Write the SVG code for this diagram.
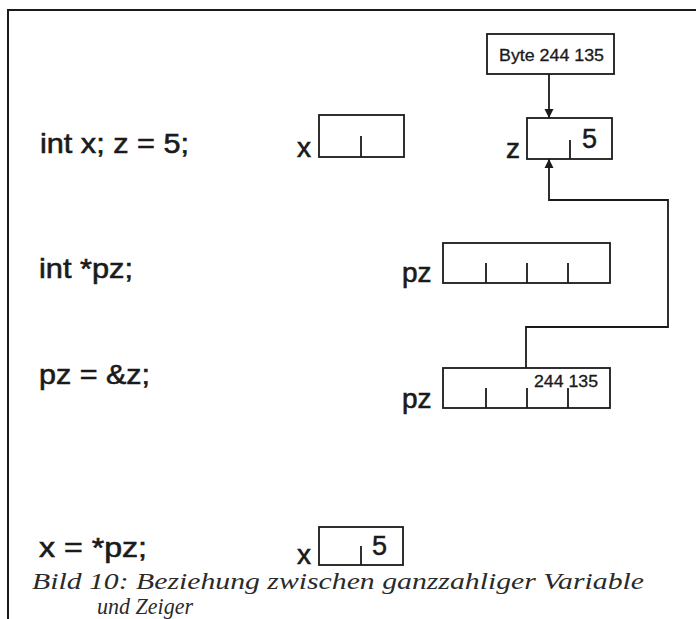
<svg xmlns="http://www.w3.org/2000/svg" width="696" height="619" viewBox="0 0 696 619">
<style>
.code{font-family:"Liberation Sans",Arial,sans-serif;font-size:28px;fill:#1a1a1a;stroke:#1a1a1a;stroke-width:0.6}
.lbl{font-family:"Liberation Sans",Arial,sans-serif;font-size:28px;fill:#1a1a1a;stroke:#1a1a1a;stroke-width:0.6}
.small{font-family:"Liberation Sans",Arial,sans-serif;font-size:16px;fill:#1a1a1a;stroke:#1a1a1a;stroke-width:0.3}
.val{font-family:"Liberation Sans",Arial,sans-serif;font-size:27px;fill:#1a1a1a;stroke:#1a1a1a;stroke-width:0.5}
.cap{font-family:"Liberation Serif","Times New Roman",serif;font-style:italic;font-size:23px;fill:#2a2a2a}
.box{fill:none;stroke:#1a1a1a;stroke-width:1.8}
.div{stroke:#1a1a1a;stroke-width:1.8}
.conn{fill:none;stroke:#1a1a1a;stroke-width:1.8}
</style>
<defs>
<marker id="ah" viewBox="0 0 10 10" refX="10" refY="5" markerWidth="9" markerHeight="13" markerUnits="userSpaceOnUse" orient="auto">
<path d="M0,0 L10,5 L0,10 z" fill="#1a1a1a"/>
</marker>
</defs>
<rect width="696" height="619" fill="#fff"/>
<g id="frame">
<path d="M8,619 V10 H696" fill="none" stroke="#1a1a1a" stroke-width="2"/>
</g>
<g id="code">
<text class="code" x="40" y="153" textLength="149" lengthAdjust="spacingAndGlyphs">int x; z = 5;</text>
<text class="code" x="39" y="278" textLength="94" lengthAdjust="spacingAndGlyphs">int *pz;</text>
<text class="code" x="39" y="384" textLength="111" lengthAdjust="spacingAndGlyphs">pz = &amp;z;</text>
<text class="code" x="39" y="557" textLength="108" lengthAdjust="spacingAndGlyphs">x = *pz;</text>
</g>
<g id="byte">
<rect class="box" x="487" y="34" width="127" height="40"/>
<text class="small" x="499" y="61" textLength="105" lengthAdjust="spacingAndGlyphs">Byte 244 135</text>
</g>
<g id="x1">
<text class="lbl" x="297" y="157">x</text>
<rect class="box" x="319" y="115" width="85" height="42"/>
<line class="div" x1="361" y1="136" x2="361" y2="157"/>
</g>
<g id="z">
<text class="lbl" x="506" y="158">z</text>
<rect class="box" x="527" y="118" width="85" height="41"/>
<line class="div" x1="570" y1="140" x2="570" y2="159"/>
<text class="val" x="582" y="148">5</text>
</g>
<g id="pz1">
<text class="lbl" x="402" y="282">pz</text>
<rect class="box" x="443" y="243" width="167" height="40"/>
<line class="div" x1="486" y1="263" x2="486" y2="283"/>
<line class="div" x1="527" y1="263" x2="527" y2="283"/>
<line class="div" x1="568" y1="263" x2="568" y2="283"/>
</g>
<g id="pz2">
<text class="lbl" x="402" y="408">pz</text>
<rect class="box" x="443" y="368" width="167" height="40"/>
<line class="div" x1="486" y1="388" x2="486" y2="408"/>
<line class="div" x1="527" y1="388" x2="527" y2="408"/>
<line class="div" x1="568" y1="388" x2="568" y2="408"/>
<text class="small" x="534" y="387" textLength="64" lengthAdjust="spacingAndGlyphs">244 135</text>
</g>
<g id="x2">
<text class="lbl" x="297" y="564">x</text>
<rect class="box" x="319" y="527" width="84" height="38"/>
<line class="div" x1="361" y1="546" x2="361" y2="565"/>
<text class="val" x="372" y="555">5</text>
</g>
<g id="connectors">
<line class="conn" x1="549" y1="74" x2="549" y2="118" marker-end="url(#ah)"/>
<path class="conn" d="M526,368 V327 H668 V200 H549 V159" marker-end="url(#ah)"/>
</g>
<g id="caption">
<text class="cap" x="32" y="589" textLength="612" lengthAdjust="spacingAndGlyphs">Bild 10: Beziehung zwischen ganzzahliger Variable</text>
<text class="cap" x="97" y="614" textLength="96" lengthAdjust="spacingAndGlyphs">und Zeiger</text>
</g>
</svg>
